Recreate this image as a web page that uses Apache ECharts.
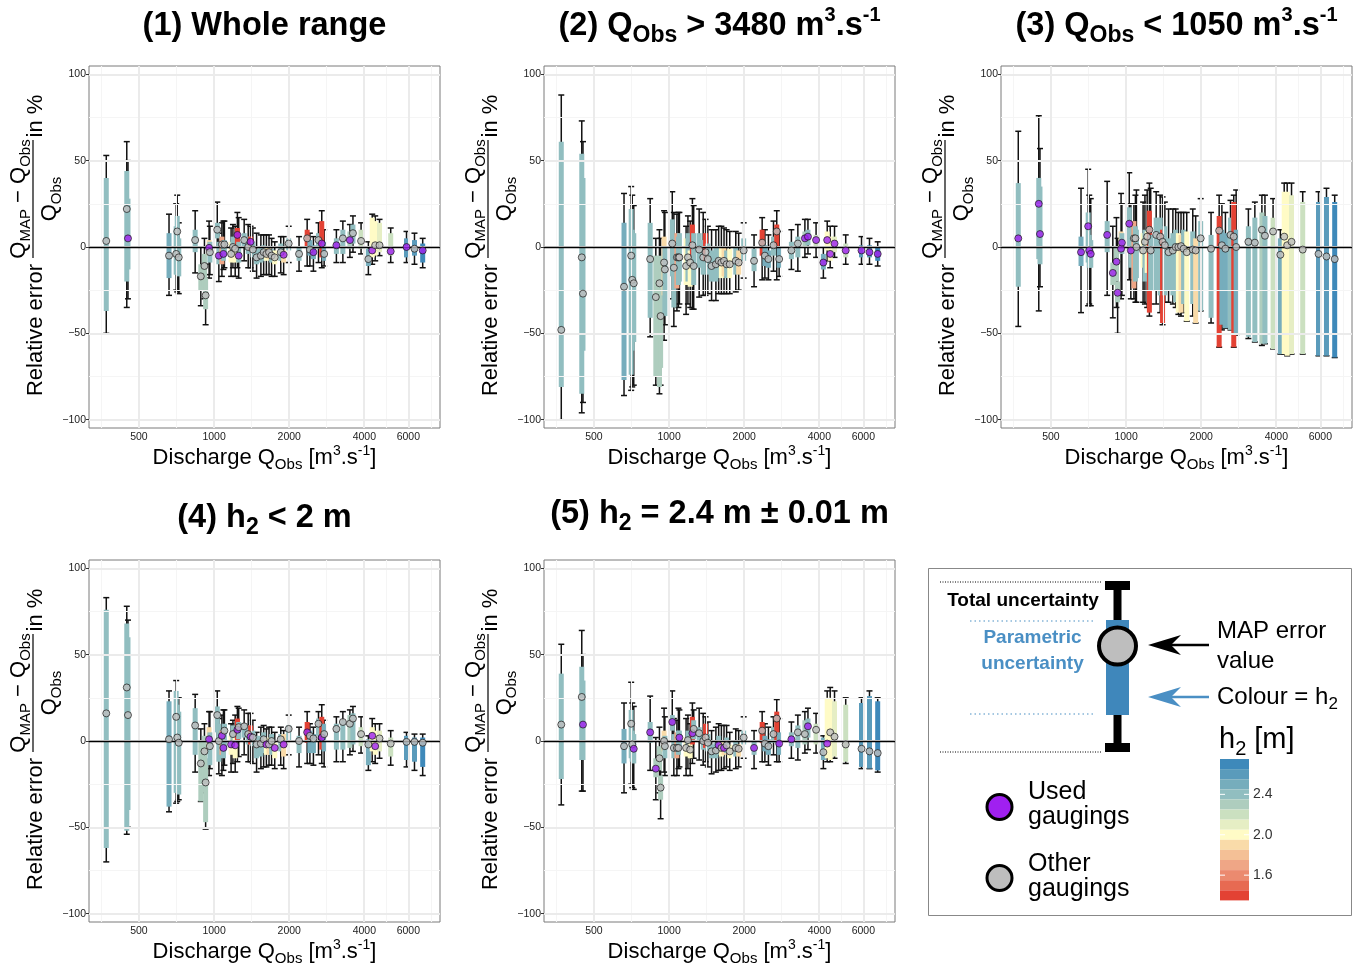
<!DOCTYPE html>
<html>
<head>
<meta charset="utf-8">
<title>Relative errors of the MAP rating curve</title>
<script src="https://cdn.jsdelivr.net/npm/echarts@6.0.0/dist/echarts.min.js"></script>
<style>
  html, body { margin: 0; padding: 0; background: #fff; }
  #chart { width: 1353px; height: 967px; }
</style>
</head>
<body>
<div id="chart"></div>
<script>
const FONT = '"Liberation Sans", Arial, Helvetica, sans-serif';

// Gaugings: observed discharge and h2 (colour)
const qObs = [370, 447, 452, 660, 705, 712, 722, 840, 885, 915,
  925, 955, 962, 1030, 1045, 1075, 1090, 1100, 1170, 1190,
  1215, 1240, 1255, 1320, 1370, 1400, 1430, 1480, 1540, 1580,
  1620, 1660, 1700, 1750, 1850, 1900, 1990, 2190, 2360, 2420,
  2500, 2620, 2700, 2760, 3090, 3280, 3500, 3600, 3880, 4150,
  4300, 4420, 4600, 5100, 5900, 6350, 6850];
const h2 = [2.4, 2.4, 2.4, 2.5, 2.4, 2.4, 2.4, 2.4, 2.3, 2.3,
  2.3, 1.9, 2.4, 2.4, 2.4, 1.7, 2.4, 2.4, 2.0, 2.4,
  2.0, 1.4, 2.4, 2.4, 2.4, 1.4, 2.4, 2.4, 2.4, 2.4,
  2.0, 1.9, 2.4, 2.0, 2.4, 1.9, 2.4, 2.4, 1.4, 2.5,
  2.5, 2.4, 1.4, 2.5, 2.4, 2.4, 2.3, 2.4, 2.2, 2.5,
  2.0, 2.0, 2.1, 2.15, 2.6, 2.55, 2.7];

// rows: [MAP error, param low, param high, total low, total high] in %
const wholeRange = [
  [3.5,-37,40,-50,53], [22,-20,44,-35,61], [5,-13,28,-30,50], [-5,-18,8,-28,19], [-4,-16,12,-25,25],
  [9,-16,18,-26,30], [-6,-17,5,-27,14], [4,-3,10,-15,21], [-17,-25,-10,-34,0], [-11,-23,-4,-30,5],
  [-28,-36,-18,-45,-10], [-0.5,-5,4,-18,15], [-3,-9,3,-16,12], [10,5,14,0,26], [-5,-10,3,-20,8],
  [1.5,-10,6,-17,14], [-4,-8,2,-13,15], [1.5,-5,4,-12,15], [-4,-9,3,-17,11], [0,-5,6,-12,13],
  [-1,-9,1,-17,12], [7,0,11,-12,20], [-5,-9,3,-18,17], [4,0,8,-8,16], [0,-4,6,-12,13],
  [3,-2,6,-12,12], [-1.5,-6,3,-14,11], [-6,-10,-1,-18,8], [-5,-9,0,-17,7], [-3,-8,1,-16,7],
  [-4,-8,0,-16,7], [-3,-7,0,-16,7], [-5,-9,-1,-17,5], [-6,-10,-2,-17,3], [-3,-8,2,-15,6],
  [-4.5,-9,-2,-16,6], [2,-2,5,-9,12], [-4,-8,0,-14,6], [5,0,10,-11,16], [-1.5,-5,4,-11,8],
  [-3,-7,1,-14,6], [4,-1,8,-9,14], [2,-6,15,-12,21], [-4,-8,3,-11,10], [1,-4,5,-9,10],
  [5,-4,10,-9,15], [4,-1,9,-6,13], [8,2,13,-3,18], [3.5,-1,10,-4,14], [-7,-11,-1,-16,3],
  [-2,-6,17,-10,19], [1,-5,15,-8,18], [1,-3,14,-5,16], [-2.5,-5,8,-9,11], [0,-6,5,-9,9],
  [-1,-5,4,-10,8], [-2,-9,2,-12,5]
];
const highFlow = [
  [-48,-81,61,-100,88], [-6,-85,54,-96,73], [-27,-60,40,-90,61], [-23,-77,14,-86,31], [-5,-74,22,-83,35],
  [-19,-60,10,-81,30], [-21,-55,8,-80,24], [-7,-41,14,-52,28], [-29,-75,-5,-80,5], [-21,-81,-5,-85,10],
  [-40,-70,-10,-80,5], [-9,-28,6,-54,21], [-13,-40,0,-45,20], [2,-17,16,-30,32], [-12,-35,7,-46,20],
  [-6,-24,8,-37,19], [-6,-22,6,-35,20], [-6,-20,8,-33,20], [-11,-22,5,-39,12], [-6,-20,8,-33,18],
  [-9,-23,-2,-35,15], [1,-6,13,-36,28], [-11,-22,8,-36,24], [-1.5,-12,8,-29,22], [-6,-16,4,-28,20],
  [-3,-8,8,-28,16], [-7,-16,2,-27,12], [-11,-20,-2,-31,10], [-10,-20,0,-31,10], [-8,-18,0,-27,12],
  [-9,-18,0,-27,12], [-8,-17,0,-27,11], [-10,-18,-2,-27,10], [-10,-18,-1,-27,9], [-8,-16,0,-26,9],
  [-9,-16,-2,-25,8], [-2,-8,5,-18,14], [-8,-14,-1,-23,7], [2.5,-5,10,-19,17], [-5,-11,1,-18,10],
  [-7,-12,-2,-19,7], [1,-5,6,-14,15], [9,0,13,-19,21], [-7,-12,0,-17,9], [-2,-7,3,-13,10],
  [2,-6,6,-14,13], [5,0,9,-6,16], [6,1,10,-4,16], [4,0,7,-6,14], [-9,-13,-4,-18,0],
  [4,-2,9,-8,15], [-4,-8,6,-12,12], [2,-3,6,-6,12], [-2,-6,2,-10,7], [-2,-6,1,-10,6],
  [-3,-6,1,-10,5], [-4,-8,0,-11,3]
];
const lowFlow = [
  [5,-23,37,-46,67], [25,-7,40,-37,76], [7.5,-10,35,-23,57], [-3,-11,6,-38,34], [12,-9,20,-34,45],
  [-2,-12,7,-33,30], [-4,-12,4,-34,28], [7,-3,15,-28,38], [-15,-22,-9,-41,12], [-8.5,-20,0,-35,17],
  [-26.5,-32,-20,-50,5], [-1,-3,9,-30,31], [2.5,-4,8,-28,25], [13.5,-1,23,-19,43], [-2,-12,5,-30,25],
  [5,-24,15,-30,25], [5,-20,12,-32,30], [0,-18,10,-32,33], [-2,-12,8,-32,26], [3,-20,10,-33,30],
  [6,-15,9,-35,33], [10,-38,21,-40,37], [-2,-25,7,-33,34], [7,-25,17,-33,32], [6,-28,17,-38,30],
  [3,-44,10,-45,29], [1,-28,12,-32,26], [-3,-25,5,-32,22], [-2,-28,8,-33,22], [0,-32,10,-35,22],
  [0,-38,8,-39,20], [0.5,-38,7,-40,20], [-1,-33,10,-38,20], [-3,-43,9,-43,20], [-1.5,-33,9,-40,22],
  [-2,-44,5,-44,18], [5,-37,15,-37,28], [-1,-41,7,-44,20], [9.5,-58,18,-58,30], [1,-45,10,-48,25],
  [-1,-47,8,-47,20], [7,-48,17,-48,27], [6,-58,26,-58,30], [0,-50,10,-51,33], [3,-52,12,-53,22],
  [2.5,-55,17,-55,26], [10,-56,20,-57,30], [6.5,-56,18,-56,30], [9,-59,17,-59,28], [-4.5,-62,5,-62,10],
  [6,-62,32,-62,37], [1,-63,32,-63,37], [3,-62,30,-62,37], [-1.5,-62,26,-62,32], [-4,-63,26,-63,32],
  [-5.5,-63,29,-63,34], [-7,-64,26,-64,30]
];
const lowH2 = [
  [16,-62,76,-70,83], [31,-52,68,-54,78], [15,-40,60,-50,70], [1,-38,23,-41,29], [14,-30,29,-36,35],
  [2,-30,21,-35,25], [-1,-31,17,-34,25], [9,-8,19,-18,27], [-13,-35,0,-35,7], [-6,-20,3,-30,10],
  [-24,-47,-10,-51,-5], [1,-7,8,-20,17], [-3,-14,5,-16,17], [15,5,20,0,29], [0,-12,10,-19,13],
  [3,-8,6,-20,15], [-4,-10,5,-17,18], [6,-5,10,-14,18], [-2,-8,3,-18,10], [4,-4,9,-13,12],
  [-2.5,-10,2,-18,15], [6.5,0,13,-12,20], [8,1,11,-9,19], [8.5,2,10,-8,18], [4,-2,9,-12,16],
  [2.5,-2,9,-12,16], [2,-3,6,-13,12], [-2,-10,3,-18,5], [-1.5,-9,3,-16,8], [1,-7,5,-15,9],
  [-2,-8,2,-15,7], [-2,-8,1,-14,8], [0,-8,4,-14,8], [-4,-10,-1,-16,5], [1,-6,4,-14,8],
  [-2,-9,4,-16,6], [7,0,9,-8,15], [0,-7,3,-15,8], [5,-1,11,-13,17], [3,-7,6,-13,10],
  [1.5,-7,4,-14,8], [10,3,13,-8,17], [2,-5,14,-13,21], [4,-6,10,-15,12], [7,-5,10,-12,14],
  [11,-5,12,-12,17], [10,-4,15,-8,18], [13,-2,16,-6,20], [4,-3,8,-7,14], [-2,-14,1,-17,3],
  [3,-6,8,-12,13], [-3,-8,6,-13,10], [1.5,-6,6,-10,10], [-1.5,-9,2,-14,6], [-0.5,-11,3,-15,5],
  [-0.5,-12,2,-17,4], [-1,-15,2,-20,4]
];
const fixedH2 = [
  [9.5,-22,39,-37,56], [25.5,-11,43,-29,64], [9.5,-11,35,-29,50], [-3,-13,7,-30,22], [10,-10,18,-25,34],
  [-2,-12,6,-27,22], [-4.5,-13,4,-28,20], [5,-1,11,-17,26], [-16,-21,-10,-34,2], [-10,-17,-3,-30,8],
  [-27,-34,-20,-45,-5], [0,-6,6,-18,19], [-3,-10,3,-20,14], [11,6,15,0,29], [-4,-10,4,-20,13],
  [-4,-10,5,-20,12], [-4,-8,6,-16,19], [2,-3,6,-15,18], [-4,-9,2,-20,13], [0.5,-5,6,-16,15],
  [-5,-10,-1,-20,10], [4.5,-2,14,-13,22], [7,1,12,-10,18], [4.5,0,8,-11,19], [0,-5,6,-14,16],
  [2,-4,10,-12,14], [-1,-6,4,-15,11], [-6,-10,-2,-19,6], [-5.5,-10,-1,-18,8], [-2.5,-8,3,-17,10],
  [-4,-9,0,-17,9], [-4,-8,-1,-16,9], [-2.5,-7,2,-15,9], [-6,-10,-2,-17,5], [-4,-9,0,-16,7],
  [-4.5,-9,-2,-15,6], [2,-2,6,-10,14], [-4,-8,0,-16,6], [6,-1,11,-12,17], [-1.5,-6,3,-12,10],
  [-3,-8,1,-14,8], [4,-1,8,-8,14], [13,0,17,-12,24], [-1.5,-8,5,-12,13], [1,-3,5,-10,11],
  [5,-4,9,-11,15], [4,-2,12,-7,17], [8.5,2,13,-5,19], [6.5,-2,10,-7,16], [-6.5,-11,2,-16,3],
  [-1.5,-10,25,-12,29], [5,-11,25,-12,31], [2.5,-9,23,-10,29], [-2,-12,21,-13,25], [-4.5,-15,22,-16,25],
  [-6,-16,26,-16,29], [-7,-17,23,-18,25]
];

// indices of the gaugings used for calibration in each case
const usedWhole = [2, 11, 14, 16, 21, 22, 25, 35, 40, 42, 44, 46, 50, 53, 54, 56];
const usedHigh = [46, 47, 48, 49, 50, 51, 52, 53, 54, 55, 56];
const usedLow = [0, 1, 2, 3, 4, 5, 6, 7, 8, 9, 10, 11, 12, 13, 14];
const usedLowH2 = [11, 15, 16, 18, 20, 21, 25, 30, 33, 35, 38, 42, 50, 51];
const usedFixedH2 = [2, 6, 7, 8, 13, 17, 21, 29, 31, 37, 43, 44, 47, 50];

const xTicks = [500, 1000, 2000, 4000, 6000];
const xMinorTicks = [354, 707, 1414, 2828, 4899, 7348];
const yTicks = [-100, -50, 0, 50, 100];
const yMinorTicks = [-75, -25, 25, 75];

// colour scale of h2
const h2Edges = [1.35, 1.45, 1.55, 1.65, 1.75, 1.85, 1.95, 2.05, 2.15, 2.25, 2.35, 2.45, 2.55, 2.65, 2.75];
const h2Colors = ['#e34234', '#e76a52', '#eb8a6f', '#efa686', '#f4c096', '#f9dba9', '#fffbc6',
  '#e6eec4', '#cbe0c0', '#aecdbe', '#91bec0', '#76adbc', '#5a9bbb', '#3e89ba'];
const h2Labels = [2.4, 2.0, 1.6];

const PW = 351, PH = 362;
const LQMIN = 2.499, LQMAX = 3.905;
const YLIM = 104.8;

const panels = [
  { rows: wholeRange, used: usedWhole, left: 89, top: 66, titleY: 26,
    title: [['(1) Whole range', 'n']] },
  { rows: highFlow, used: usedHigh, left: 544, top: 66, titleY: 26,
    title: [['(2) Q', 'n'], ['Obs', 's'], [' > 3480 m', 'n'], ['3', 'p'], ['.s', 'n'], ['-1', 'p']] },
  { rows: lowFlow, used: usedLow, left: 1001, top: 66, titleY: 26,
    title: [['(3) Q', 'n'], ['Obs', 's'], [' < 1050 m', 'n'], ['3', 'p'], ['.s', 'n'], ['-1', 'p']] },
  { rows: lowH2, used: usedLowH2, left: 89, top: 560, titleY: 518,
    title: [['(4) h', 'n'], ['2', 's'], [' < 2 m', 'n']] },
  { rows: fixedH2, used: usedFixedH2, left: 544, top: 560, titleY: 514,
    title: [['(5) h', 'n'], ['2', 's'], [' = 2.4 m \u00b1 0.01 m', 'n']] }
];
const xName = [['Discharge Q', 'n'], ['Obs', 's'], [' [m', 'n'], ['3', 'p'], ['.s', 'n'], ['-1', 'p'], [']', 'n']];

// rich text with sub- and superscripts
function mathText(parts, size, weight, color) {
  const lh = Math.round(size * 1.2);
  const base = { fontSize: size, fontWeight: weight, fontFamily: FONT, fill: color };
  const rich = {
    n: Object.assign({}, base, { lineHeight: lh }),
    s: Object.assign({}, base, { fontSize: Math.round(size * 0.7), verticalAlign: 'bottom',
      height: Math.round(size * 0.6), lineHeight: Math.round(size * 0.6) }),
    p: Object.assign({}, base, { fontSize: Math.round(size * 0.62), verticalAlign: 'top',
      height: Math.round(size * 0.54), lineHeight: Math.round(size * 0.54) })
  };
  const text = parts.map(p => '{' + p[1] + '|' + p[0] + '}').join('');
  return { text: text, rich: rich };
}

function textEl(x, y, parts, size, weight, align, color) {
  const m = mathText(parts, size, weight, color || '#000');
  return {
    type: 'text', x: x, y: y, silent: true,
    style: { text: m.text, rich: m.rich, align: align, verticalAlign: 'middle',
      fontSize: size, fontFamily: FONT, fill: color || '#000' }
  };
}

function yLabel(x, y) {
  return {
    type: 'group', x: x, y: y, rotation: Math.PI / 2, silent: true,
    children: [
      textEl(-83, 2.5, [['Relative error', 'n']], 22, 'normal', 'center'),
      textEl(48, -14, [['Q', 'n'], ['MAP', 's'], [' \u2212 Q', 'n'], ['Obs', 's']], 22, 'normal', 'center'),
      { type: 'line', shape: { x1: -11, y1: 0, x2: 107, y2: 0 }, style: { stroke: '#000', lineWidth: 1.2 } },
      textEl(48, 17, [['Q', 'n'], ['Obs', 's']], 22, 'normal', 'center'),
      textEl(131, 3, [['in %', 'n']], 22, 'normal', 'center')
    ]
  };
}

function renderTotal(params, api) {
  const x = api.value(0);
  const lo = api.coord([x, api.value(1)]);
  const hi = api.coord([x, api.value(2)]);
  const cap = 3;
  const st = { stroke: '#111', lineWidth: 1.5 };
  return {
    type: 'group',
    children: [
      { type: 'line', shape: { x1: lo[0], y1: lo[1], x2: hi[0], y2: hi[1] }, style: st },
      { type: 'line', shape: { x1: lo[0] - cap, y1: lo[1], x2: lo[0] + cap, y2: lo[1] }, style: st },
      { type: 'line', shape: { x1: hi[0] - cap, y1: hi[1], x2: hi[0] + cap, y2: hi[1] }, style: st }
    ]
  };
}

function renderParam(params, api) {
  const x = api.value(0);
  const top = api.coord([x, api.value(2)]);
  const bot = api.coord([x, api.value(1)]);
  const w = 5;
  return {
    type: 'rect',
    shape: { x: top[0] - w / 2, y: top[1], width: w, height: bot[1] - top[1] },
    style: { fill: api.visual('color') }
  };
}

const grids = [], xAxes = [], yAxes = [], series = [], graphics = [];
const majorStyle = { color: '#ebebeb', width: 2, type: 'solid' };
const minorStyle = { color: '#f5f5f5', width: 1.1, type: 'solid' };

panels.forEach(function (p, i) {
  grids.push({ left: p.left, top: p.top, width: PW, height: PH, show: true,
    borderColor: '#7a7a7a', borderWidth: 1, backgroundColor: 'transparent' });
  xAxes.push({
    gridIndex: i, type: 'value', min: LQMIN, max: LQMAX,
    axisLine: { show: false },
    axisTick: { show: true, length: 3, lineStyle: { color: '#333' }, customValues: xTicks.map(Math.log10) },
    axisLabel: { customValues: xTicks.map(Math.log10), fontSize: 10.5, color: '#222', margin: 4, fontFamily: FONT,
      formatter: function (v) { return String(Math.round(Math.pow(10, v))); } },
    splitLine: { show: false }
  });
  yAxes.push({
    gridIndex: i, type: 'value', min: -YLIM, max: YLIM,
    axisLine: { show: false },
    axisTick: { show: true, length: 3, lineStyle: { color: '#333' }, customValues: yTicks },
    axisLabel: { customValues: yTicks, fontSize: 10.5, color: '#222', margin: 3, fontFamily: FONT,
      formatter: function (v) { return v < 0 ? '\u2212' + Math.abs(v) : String(v); } },
    splitLine: { show: false }
  });

  // background grid lines
  series.push({
    type: 'line', xAxisIndex: i, yAxisIndex: i, data: [], z: 1, silent: true,
    markLine: {
      silent: true, symbol: ['none', 'none'], animation: false, label: { show: false },
      emphasis: { disabled: true },
      data: [].concat(
        xMinorTicks.map(v => ({ xAxis: Math.log10(v), lineStyle: minorStyle })),
        yMinorTicks.map(v => ({ yAxis: v, lineStyle: minorStyle })),
        xTicks.map(v => ({ xAxis: Math.log10(v), lineStyle: majorStyle })),
        yTicks.map(v => ({ yAxis: v, lineStyle: majorStyle }))
      )
    }
  });
  // total uncertainty
  series.push({
    type: 'custom', xAxisIndex: i, yAxisIndex: i, z: 2, silent: true, clip: true,
    renderItem: renderTotal,
    data: p.rows.map((r, k) => [Math.log10(qObs[k]), r[3], r[4]])
  });
  // parametric uncertainty, coloured by h2
  series.push({
    type: 'custom', xAxisIndex: i, yAxisIndex: i, z: 3, silent: true, clip: true,
    renderItem: renderParam,
    data: p.rows.map((r, k) => [Math.log10(qObs[k]), r[1], r[2], h2[k]])
  });
  // zero line
  series.push({
    type: 'line', xAxisIndex: i, yAxisIndex: i, data: [], z: 4, silent: true,
    markLine: {
      silent: true, symbol: ['none', 'none'], animation: false, label: { show: false },
      emphasis: { disabled: true },
      data: [{ yAxis: 0, lineStyle: { color: '#000', width: 1.4, type: 'solid' } }]
    }
  });
  // MAP error points
  series.push({
    type: 'scatter', xAxisIndex: i, yAxisIndex: i, z: 5, silent: true, symbolSize: 7,
    itemStyle: { borderColor: '#1a1a1a', borderWidth: 0.9 },
    data: p.rows.map((r, k) => ({
      value: [Math.log10(qObs[k]), r[0]],
      itemStyle: { color: p.used.indexOf(k) >= 0 ? '#a020f0' : '#bebebe' }
    }))
  });

  const cx = p.left + PW / 2;
  graphics.push(textEl(cx, p.titleY, p.title, 32.5, 'bold', 'center'));
  graphics.push(textEl(cx, p.top + PH + 30, xName, 22, 'normal', 'center'));
  graphics.push(yLabel(p.left - 56, p.top + PH / 2));
});

// legend panel
const BLUE = '#3f87bb', BLUE_TXT = '#4a8fc4';
const CB_LEFT = 1220, CB_TOP = 759, CB_H = 141.4, CB_W = 29;
graphics.push(
  { type: 'rect', shape: { x: 928.5, y: 568.5, width: 423, height: 347 }, style: { fill: 'none', stroke: '#888', lineWidth: 1 } },
  { type: 'line', shape: { x1: 940, y1: 582, x2: 1102, y2: 582 }, style: { stroke: '#000', lineWidth: 1, lineDash: [1, 1.5] } },
  { type: 'line', shape: { x1: 940, y1: 752, x2: 1102, y2: 752 }, style: { stroke: '#000', lineWidth: 1, lineDash: [1, 1.5] } },
  { type: 'line', shape: { x1: 970, y1: 621, x2: 1093, y2: 621 }, style: { stroke: BLUE_TXT, lineWidth: 1.2, lineDash: [1.5, 3] } },
  { type: 'line', shape: { x1: 970, y1: 714, x2: 1093, y2: 714 }, style: { stroke: BLUE_TXT, lineWidth: 1.2, lineDash: [1.5, 3] } },
  { type: 'line', shape: { x1: 1117.5, y1: 585, x2: 1117.5, y2: 748 }, style: { stroke: '#000', lineWidth: 8 } },
  { type: 'rect', shape: { x: 1105, y: 581, width: 25, height: 9 }, style: { fill: '#000' } },
  { type: 'rect', shape: { x: 1105, y: 743, width: 25, height: 9 }, style: { fill: '#000' } },
  { type: 'rect', shape: { x: 1106, y: 620, width: 23, height: 95 }, style: { fill: BLUE } },
  { type: 'circle', shape: { cx: 1117.5, cy: 646, r: 18.5 }, style: { fill: '#bebebe', stroke: '#000', lineWidth: 4 } },
  textEl(1023, 601, [['Total uncertainty', 'n']], 19, 'bold', 'center'),
  textEl(1032.5, 638, [['Parametric', 'n']], 19, 'bold', 'center', BLUE_TXT),
  textEl(1032.5, 664, [['uncertainty', 'n']], 19, 'bold', 'center', BLUE_TXT),
  { type: 'line', shape: { x1: 1209, y1: 645, x2: 1168, y2: 645 }, style: { stroke: '#000', lineWidth: 2.5 } },
  { type: 'polygon', shape: { points: [[1148, 645], [1181, 635], [1171, 645], [1181, 655]] }, style: { fill: '#000' } },
  { type: 'line', shape: { x1: 1209, y1: 697, x2: 1168, y2: 697 }, style: { stroke: BLUE_TXT, lineWidth: 2.5 } },
  { type: 'polygon', shape: { points: [[1148, 697], [1181, 687], [1171, 697], [1181, 707]] }, style: { fill: BLUE_TXT } },
  textEl(1217, 631, [['MAP error', 'n']], 24, 'normal', 'left'),
  textEl(1217, 661, [['value', 'n']], 24, 'normal', 'left'),
  textEl(1217, 697, [['Colour = h', 'n'], ['2', 's']], 24, 'normal', 'left'),
  textEl(1219, 740, [['h', 'n'], ['2', 's'], [' [m]', 'n']], 29, 'normal', 'left'),
  { type: 'circle', shape: { cx: 999.5, cy: 807, r: 12.5 }, style: { fill: '#a020f0', stroke: '#000', lineWidth: 3 } },
  textEl(1028, 792, [['Used', 'n']], 25, 'normal', 'left'),
  textEl(1028, 817, [['gaugings', 'n']], 25, 'normal', 'left'),
  { type: 'circle', shape: { cx: 999.5, cy: 878, r: 12.5 }, style: { fill: '#bebebe', stroke: '#000', lineWidth: 3 } },
  textEl(1028, 864, [['Other', 'n']], 25, 'normal', 'left'),
  textEl(1028, 889, [['gaugings', 'n']], 25, 'normal', 'left')
);
h2Labels.forEach(function (v) {
  const y = CB_TOP + (h2Edges[h2Edges.length - 1] - v) / (h2Edges[h2Edges.length - 1] - h2Edges[0]) * CB_H;
  graphics.push(
    { type: 'line', z: 200, shape: { x1: CB_LEFT, y1: y, x2: CB_LEFT + 5, y2: y }, style: { stroke: '#fff', lineWidth: 1 } },
    { type: 'line', z: 200, shape: { x1: CB_LEFT + CB_W - 5, y1: y, x2: CB_LEFT + CB_W, y2: y }, style: { stroke: '#fff', lineWidth: 1 } },
    textEl(CB_LEFT + CB_W + 4, y, [[v.toFixed(1), 'n']], 14, 'normal', 'left', '#333')
  );
});

const chart = echarts.init(document.getElementById('chart'));
chart.setOption({
  animation: false,
  backgroundColor: '#fff',
  grid: grids,
  xAxis: xAxes,
  yAxis: yAxes,
  visualMap: {
    type: 'piecewise',
    seriesIndex: panels.map((p, i) => i * 5 + 2),
    dimension: 3,
    pieces: h2Colors.map((c, k) => ({ gte: h2Edges[k], lt: h2Edges[k + 1], color: c })),
    orient: 'vertical', left: CB_LEFT, top: CB_TOP,
    itemWidth: CB_W, itemHeight: CB_H / h2Colors.length, itemGap: 0,
    itemSymbol: 'rect', showLabel: false, selectedMode: false, hoverLink: false,
    padding: 0, textGap: 0
  },
  graphic: graphics,
  series: series
});
</script>
</body>
</html>
